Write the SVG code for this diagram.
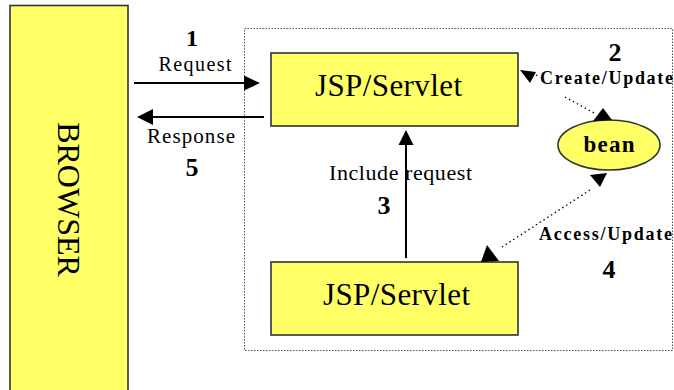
<svg xmlns="http://www.w3.org/2000/svg" width="674" height="390" viewBox="0 0 674 390">
<style>
.box{fill:#ffff66;stroke:#333;stroke-width:1.6}
.t{font-family:"Liberation Serif","Times New Roman",serif;fill:#000}
.b{font-weight:bold}
.line{stroke:#000;stroke-width:2;fill:none}
.dot{stroke:#000;stroke-width:1.3;stroke-dasharray:1.5 3;fill:none}
.head{fill:#000;stroke:none}
</style>
<rect width="674" height="390" fill="#fff"/>
<g id="container">
<rect x="244.5" y="28.5" width="428" height="322" fill="none" stroke="#555" stroke-width="1" stroke-dasharray="1.5 1.5"/>
</g>
<g id="browser">
<rect class="box" x="10" y="5.5" width="118" height="390"/>
<text class="t" font-size="32" text-anchor="middle" transform="translate(58,199.5) rotate(90)">BROWSER</text>
</g>
<g id="jsp1">
<rect class="box" x="271" y="53" width="247" height="73"/>
<text class="t" font-size="31" x="388.5" y="96" text-anchor="middle" textLength="147">JSP/Servlet</text>
</g>
<g id="jsp2">
<rect class="box" x="271" y="262" width="247" height="73"/>
<text class="t" font-size="31" x="396.5" y="305" text-anchor="middle" textLength="147">JSP/Servlet</text>
</g>
<g id="bean">
<ellipse cx="609" cy="145" rx="51" ry="25" fill="#ffff66" stroke="#333" stroke-width="1.6"/>
<text class="t b" font-size="23" x="609" y="152" text-anchor="middle" textLength="51">bean</text>
</g>
<g id="connectors">
<line class="line" x1="134" y1="83" x2="246" y2="83"/>
<polygon class="head" points="260,83 244,75.5 244,90.5"/>
<line class="line" x1="264" y1="117" x2="150" y2="117"/>
<polygon class="head" points="137,117 153,109 153,125"/>
<line class="line" x1="406" y1="258" x2="406" y2="142"/>
<polygon class="head" points="406,130 398.5,145 413.5,145"/>
<polyline class="dot" points="536,75 540,77"/>
<line class="dot" x1="565" y1="97" x2="596" y2="114"/>
<polygon class="head" points="520,70 536,72 530,83"/>
<polygon class="head" points="603,108 593,121 612,120"/>
<line class="dot" x1="590" y1="190" x2="502" y2="247"/>
<polygon class="head" points="590,175 607,173 600,187"/>
<polygon class="head" points="487,245 481,262 499,261"/>
</g>
<g id="labels">
<text class="t b" font-size="24" x="192" y="46" text-anchor="middle">1</text>
<text class="t" font-size="20" x="195" y="71" text-anchor="middle" textLength="73">Request</text>
<text class="t" font-size="21" x="191" y="143" text-anchor="middle" textLength="88">Response</text>
<text class="t b" font-size="26" x="192" y="176" text-anchor="middle">5</text>
<text class="t" font-size="22" x="329" y="180" textLength="143">Include request</text>
<text class="t b" font-size="26" x="384" y="214" text-anchor="middle">3</text>
<text class="t b" font-size="26" x="615" y="61" text-anchor="middle">2</text>
<text class="t b" font-size="18" x="540" y="84" textLength="133">Create/Update</text>
<text class="t b" font-size="18" x="539" y="240" textLength="133">Access/Update</text>
<text class="t b" font-size="26" x="609" y="278" text-anchor="middle">4</text>
</g>
</svg>
